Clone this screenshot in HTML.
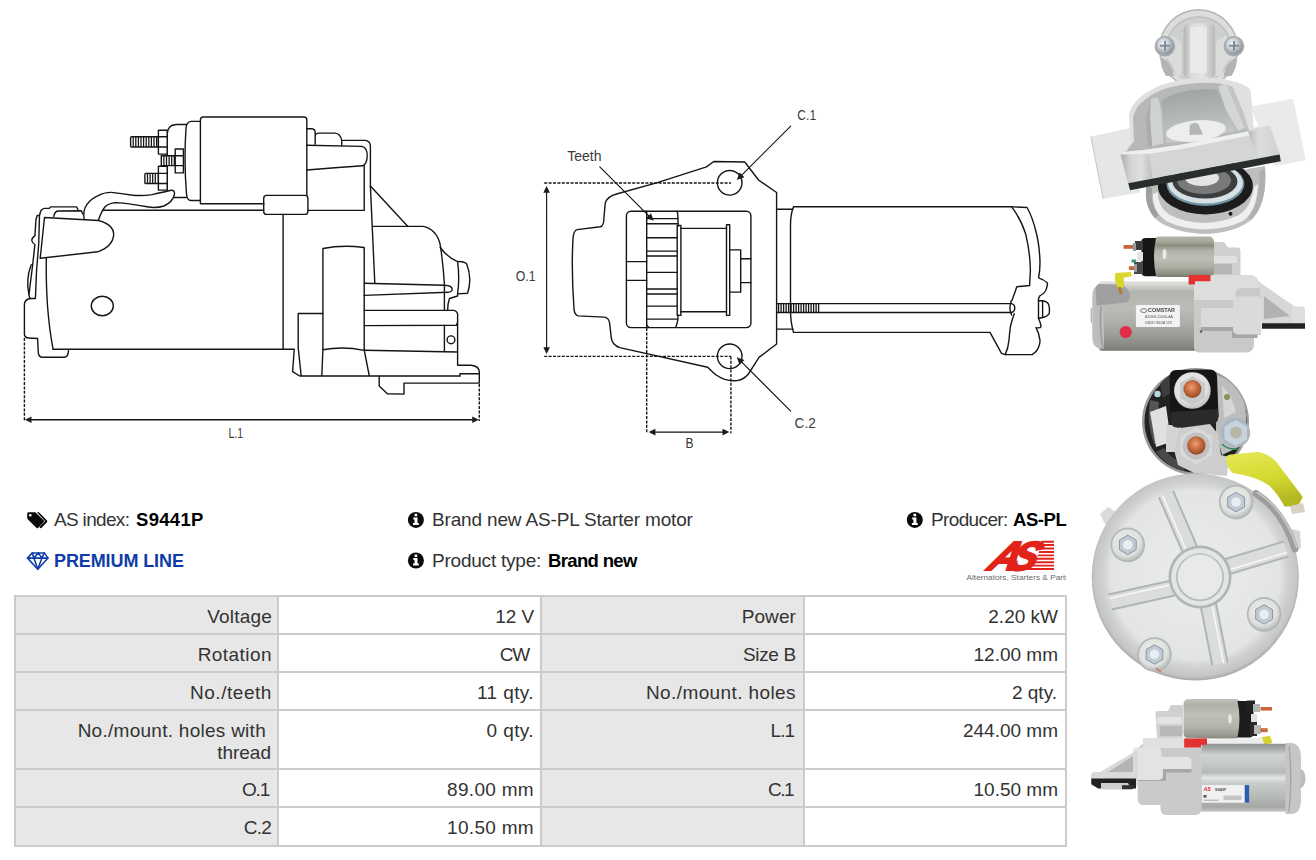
<!DOCTYPE html>
<html lang="en">
<head>
<meta charset="utf-8">
<title>S9441P - AS-PL Starter motor</title>
<style>
html,body{margin:0;padding:0;background:#fff;}
body{width:1316px;height:860px;position:relative;overflow:hidden;font-family:"Liberation Sans",sans-serif;color:#1a1a1a;}
.abs{position:absolute;}
.info{position:absolute;font-size:19px;line-height:22px;white-space:nowrap;color:#333;}
.info b{color:#000;font-weight:bold;font-size:18.5px;}
table.spec{position:absolute;left:14px;top:595px;width:1051px;border-collapse:collapse;table-layout:fixed;font-size:19px;color:#333;}
table.spec td{border:2px solid #cbcbcb;padding:0 6px 0 6px;text-align:right;vertical-align:top;line-height:22px;box-sizing:border-box;}
table.spec td.l{background:#e7e7e7;}
table.spec td.v{background:#fff;}
table.spec td span{display:block;padding-top:9px;white-space:nowrap;}
</style>
</head>
<body>
<svg id="drawL" class="abs" style="left:0;top:90px" width="520" height="370" viewBox="0 90 520 370" fill="none" stroke="#151515" stroke-width="1.4" stroke-linejoin="round" stroke-linecap="round">
<!-- solenoid body -->
<path d="M203.4 117 H304 Q306.8 117 306.8 120 V195.4 M200.4 203.8 V120 Q200.4 117 203.4 117 M200.4 203.8 H264"/>
<!-- solenoid left cap -->
<path d="M200.4 121.4 H191 Q186.5 122 186 128 Q183.8 160 186.5 194 Q187 200.5 191 200.5 H200.4"/>
<!-- terminal housing -->
<path d="M186.8 124.5 H176 Q167.8 125 167.3 133.5 V190 M174 197.5 H186.2"/>
<!-- bolts -->
<g fill="#fff">
<rect x="130.6" y="136.8" width="27.8" height="10.2" rx="1"/>
<rect x="158.4" y="130.3" width="8.8" height="23.8"/>
<rect x="161.3" y="155.8" width="13.9" height="9.8"/>
<rect x="175.2" y="149" width="8.2" height="23.9"/>
<rect x="144.9" y="173.4" width="13.5" height="10.1" rx="0.8"/>
<rect x="158.4" y="166.3" width="8.8" height="23.8"/>
<path d="M158.4 136.8h8.800M158.4 147h8.800M175.2 155.8h8.200M175.2 165.600h8.200M158.4 173.4h8.800M158.4 183.500h8.800" fill="none"/>
<path d="M133.2 136.8v10.2M135.8 136.8v10.2M138.4 136.8v10.2M141.0 136.8v10.2M143.6 136.8v10.2M146.2 136.8v10.2M148.8 136.8v10.2M151.4 136.8v10.2M154.0 136.8v10.2M156.6 136.8v10.2M163.9 155.8v9.8M166.5 155.8v9.8M169.1 155.8v9.8M171.7 155.8v9.8M174.3 155.8v9.8M147.5 173.4v10.1M150.1 173.4v10.1M152.7 173.4v10.1M155.3 173.4v10.1" stroke-width="1.25" stroke-linecap="butt" fill="none"/>
</g>
<!-- cable -->
<path d="M84.1 218.6 Q82.5 211 87.1 204.2 Q91.5 198.5 97.7 195.9 Q104 192.3 111.3 192.4 Q122 193.6 131 195 Q142 196.2 152 194.6 Q164 192 171 190.3 Q175.5 190 174.3 195 Q172.5 202 164 206 Q156 208.5 147 206.8 Q130 203.5 116 202.6 Q108 203.5 105.3 206.5 Q101.5 211 98.4 220.3"/>
<!-- motor body top / bottom -->
<path d="M103 210.3 H263.7 M53.1 349.3 H294.2 M283.1 214.4 V349.3"/>
<!-- rounded connector box -->
<rect x="263.7" y="195.4" width="44.2" height="19" rx="3"/>
<!-- brush cover -->
<path d="M44.5 217.5 L98.4 220.5 Q114.5 225 113.6 235.4 Q112.5 246.5 97.7 251.8 L40.2 258.3 Z"/>
<!-- end cap outline -->
<path d="M78 209.5 L76.5 206.9 H50.6 L49.3 208.4 H44.5 Q40.6 209.3 40.2 213 L39.5 215.5 H37.2 L36 219.3 L34.9 235.9 Q31.8 237.5 31.8 240.5 Q32.3 243.5 34.9 244.4 L32.7 264.7 L28.9 294.9 L29.9 298.5 H35.4 L36.6 270 L38.7 244 L39.5 215.5"/>
<path d="M53.8 216.5 Q54.5 211.5 58 211 L81.3 210.7 L82.8 214"/>
<path d="M31.2 264.7 Q25.6 279 28.9 294.2"/>
<path d="M46.3 258.3 Q45.5 310 53.1 349.3"/>
<path d="M29.9 298.5 Q25 299.5 24.4 304 V334.5 Q25 337.8 28.5 338 L37.6 338.5 L38.3 352.8 Q38.8 357 42.5 357.3 H64.5 Q68.3 356.8 68.5 350.6"/>
<ellipse cx="102.3" cy="306" rx="11" ry="9.7"/>
<!-- solenoid right steps -->
<path d="M306.8 128.7 H312 Q315.2 129 315.2 132.5 V144.2 M315.2 136 Q315.5 133.1 319 133.1 H335 Q340.5 133.6 341.7 140.4 V145.8 M341.7 140.4 H365 Q370.2 140.8 370.4 146 V186.1 L374.8 283.3"/>
<path d="M306.8 145.3 L362 146.4 Q367.5 148 367.2 156 Q367 164 362.7 165.8 Q335 167.5 306.8 170"/>
<path d="M364.2 165.5 V210.4 H307.9"/>
<!-- mounting flange -->
<path d="M322.9 349.5 V248.5 Q343 244.5 363.8 247.5 M364.2 247.5 V349.8"/>
<path d="M457.6 261.6 Q459.8 278 457.6 293.9"/>
<path d="M370.4 186.1 L407.9 226.4"/>
<path d="M372.6 226.4 H423 Q436 229 440 243.6 Q443 262 444.4 283.8 V310.4 M444.4 325.2 V350.6"/>
<path d="M440.2 247.5 Q447 257 457.6 261.6 Q463 261 466.5 263.5 Q472.5 278 467.6 293.2 L457.6 293.9 V296 L449.5 298.5 Q447.6 304 447.7 309.8"/>
<!-- fork / bars -->
<path d="M364.2 283.3 L444.4 285.3 Q452 285.6 452.2 289.2 Q452 292 448 292.2 L364.2 295.4"/>
<path d="M364.2 310.4 H454 Q458.5 312 457.6 316.5 V322 L456.5 325.2 L364.2 325.6"/>
<path d="M457.6 323 V365.2 H471 Q479.3 366 479.3 372 V383.1 H404 V394.1 L387.4 393.7 L379.2 386 V376.5"/>
<path d="M364.2 350.3 L457.6 352"/>
<circle cx="451" cy="339.8" r="3.9"/>
<path d="M459.9 376 V373.8 H479"/>
<!-- lower block -->
<path d="M298.2 349.3 V313.5 H322.9 M294.2 349.8 L292.6 371.6 L299.7 376 H459.9 M298.4 349.5 L301.2 376 M322.9 349.5 L321.8 376 M364.2 349.8 L369.3 376 M322.9 349.8 Q343 346 364.2 350.4"/>
<!-- dimension -->
<path d="M24.4 338 V421 M479.3 384 V421" stroke-dasharray="3 1.4" stroke-width="1.4" stroke-linecap="butt"/>
<path d="M29 419.8 H475"/>
<path d="M24.8 419.8 L31.5 416.6 V423 Z M478.9 419.8 L472.2 416.6 V423 Z" fill="#1f1f1f" stroke="none"/>
<text x="228.4" y="438" font-family="'Liberation Sans',sans-serif" font-size="14.5" fill="#3a3a3a" stroke="none" textLength="14.6" lengthAdjust="spacingAndGlyphs">L.1</text>
</svg>
<svg id="drawR" class="abs" style="left:500px;top:90px" width="580" height="370" viewBox="500 90 580 370" fill="none" stroke="#151515" stroke-width="1.4" stroke-linejoin="round" stroke-linecap="round">
<!-- housing outline -->
<path d="M713.8 161.5 L744.8 162 L758.5 180 L776.6 192.5 V344 L759 357.4 Q753 367 748 374.5 Q743 380 737 380.6 Q730 381 724.8 379.4 Q717 376.5 712.6 372.1 L707.7 367.2 L619.8 347.6 Q612 345 611.3 337.9 L609.6 323.2 Q609 317.5 604 317.1 L578.3 315.9 Q574.3 315 574 308.6 Q571.2 270 573 238.9 Q573.5 230.5 577.1 229.6 L600.3 226.7 Q604 226 604 216.9 L605.2 203.5 Q606.5 196.5 617.4 193.7 L656.5 182.8 L706.5 166.9 Z"/>
<!-- inner window -->
<rect x="626.4" y="211.3" width="124.5" height="116.3" rx="4.5"/>
<!-- gear -->
<path d="M646.7 211.3 V326.2 M649 327.4 Q647 326.5 646.7 324 M677.2 211.3 Q678.2 215 678 226 M678 315 Q678 323 675.5 327.4"/>
<path d="M646.7 218.6H677.8M646.7 223.8H678M646.7 237.7H677.2M646.7 251.1H677.2M646.7 256H677.2M646.7 272.4H677.2M646.7 289H677.2M646.7 294H677.2M646.7 306.1H677.2M646.7 319.1H677.8"/>
<path d="M677.2 225.5 V315.4 H680.9 V225.5 Z"/>
<path d="M680.9 228.4 H726.5 M680.9 311.8 H726.5"/>
<path d="M726.5 224.7 V315.4 H729.7 V224.7 Z"/>
<path d="M729.7 249.9 H740.7 V292.1 H729.7 M740.7 258.7 H750.9 M740.7 282.6 H750.9"/>
<path d="M626.4 261.6 H646.7 M626.4 280.4 H646.7"/>
<!-- holes -->
<circle cx="729.7" cy="182.8" r="12.3"/>
<circle cx="729.7" cy="356.3" r="12.3"/>
<!-- neck -->
<path d="M776.6 209.2 H792.8 M776.6 329.1 H793 M776.6 303.6 H793 M776.6 312.5 H793"/>
<!-- motor body -->
<path d="M793.5 206.8 H1011.7 L1027 207.5 M793.5 206.8 Q790.3 215 790.5 226.7 V310 Q790.5 322 793.5 332.4 H990 L1001.5 353.3 L1005.3 354.6 H1032.1 Q1037 351.5 1038.6 346.9 Q1040.5 343 1039.8 339.3 Q1039 333 1036 327.7 Q1040.5 328.5 1041.1 326.5 Q1040 321 1038.5 318.5 M1038.5 300.5 Q1038.2 298 1039.8 295.8 Q1045 293 1046.2 289.4 Q1047.5 286 1047.5 283 Q1043.5 279.5 1038.6 277.9 Q1040.5 268 1039.8 257.4 Q1039 243 1036 231.8 Q1032.5 217 1027 207.5"/>
<path d="M1011.7 206.8 Q1021.5 220 1025.8 234.4 Q1030 252 1030.4 270.2 L1029.6 285.5 L1016.8 286.8 Q1014.5 294 1011.7 300.9 M1014.2 313.7 Q1012 320 1010.4 326.5 Q1009.5 333 1009.1 339.3 Q1008.3 348 1005.3 354.6"/>
<path d="M1038.5 300.7 H1042.4 Q1047.5 301.5 1048.8 304.7 Q1050 309 1049.3 313.7 Q1047 317 1042.4 317.5 L1038.5 318.5 Z"/>
<path d="M1042.6 300.9 V317.5"/>
<!-- through bolt -->
<path d="M793 303.6 H1011.5 Q1014.8 304.5 1014.8 308 Q1014.8 311.5 1011.5 312.5 H793"/>
<path d="M1011.2 301 Q1008.5 308 1011.6 315" />
<path d="M778.6 303.7v8.8M781.1 303.7v8.8M783.6 303.7v8.8M786.1 303.7v8.8M788.6 303.7v8.8M791.1 303.7v8.8M793.6 303.7v8.8M796.1 303.7v8.8M798.6 303.7v8.8M801.1 303.7v8.8M803.6 303.7v8.8M806.1 303.7v8.8M808.6 303.7v8.8M811.1 303.7v8.8M813.6 303.7v8.8M816.1 303.7v8.8M818.6 303.7v8.8" stroke-width="1.3" stroke-linecap="butt"/>
<!-- dimensions -->
<g stroke-dasharray="3 1.4" stroke-linecap="butt" stroke-width="1.4">
<path d="M544.2 183 H730.9 M544.2 356.4 H730.9 M646.7 328 V433.2 M730.9 356.4 V433.2"/>
</g>
<g stroke-width="1.15">
<path d="M546.6 190 V350 M653 432.1 H725 M599.8 166.9 L650.5 217.6 M790.7 126.1 L740 176.8 M790.7 411.1 L740 360.4"/>
</g>
<g fill="#1a1a1a" stroke="none">
<path d="M546.6 186 L549.9 192.8 H543.3 Z M546.6 354 L549.9 347.2 H543.3 Z"/>
<path d="M648.6 432.1 L655.4 428.8 V435.4 Z M729.3 432.1 L722.5 428.8 V435.4 Z"/>
<path d="M653.7 220.8 L646.2 218 L651 213.2 Z"/>
<path d="M736.8 180 L739.6 172.5 L744.4 177.3 Z"/>
<path d="M736.8 357.2 L744.4 359.9 L739.6 364.7 Z"/>
</g>
<g font-family="'Liberation Sans',sans-serif" font-size="14.5" fill="#3a3a3a" stroke="none">
<text x="567.2" y="160.9" textLength="34.3" lengthAdjust="spacingAndGlyphs">Teeth</text>
<text x="515.8" y="280.9" textLength="19.8" lengthAdjust="spacingAndGlyphs">O.1</text>
<text x="685.6" y="448.3" textLength="8" lengthAdjust="spacingAndGlyphs">B</text>
<text x="797.3" y="119.9" font-size="15" textLength="18.8" lengthAdjust="spacingAndGlyphs">C.1</text>
<text x="794.6" y="427.9" font-size="15" textLength="21.2" lengthAdjust="spacingAndGlyphs">C.2</text>
</g>
</svg>
<svg id="photos" class="abs" style="left:1080px;top:0" width="236" height="860" viewBox="1080 0 236 860">
<defs>
<filter id="soft" x="-5%" y="-5%" width="110%" height="110%"><feGaussianBlur stdDeviation="0.55"/></filter>
<filter id="soft2" x="-10%" y="-10%" width="120%" height="120%"><feGaussianBlur stdDeviation="1.2"/></filter>
<filter id="soft3" x="-20%" y="-20%" width="140%" height="140%"><feGaussianBlur stdDeviation="2.5"/></filter>
<linearGradient id="cylA" x1="0" y1="0" x2="0" y2="1">
<stop offset="0" stop-color="#b4b4a8"/><stop offset="0.12" stop-color="#a6a69a"/><stop offset="0.22" stop-color="#8c8c7e"/><stop offset="0.35" stop-color="#b2b2a8"/><stop offset="0.55" stop-color="#bebeb6"/><stop offset="0.75" stop-color="#adada2"/><stop offset="0.92" stop-color="#8f8f84"/><stop offset="1" stop-color="#77776c"/>
</linearGradient>
<linearGradient id="cylB" x1="0" y1="0" x2="0" y2="1">
<stop offset="0" stop-color="#8f938f"/><stop offset="0.08" stop-color="#a9ada9"/><stop offset="0.16" stop-color="#cfd3d0"/><stop offset="0.3" stop-color="#c6cac7"/><stop offset="0.42" stop-color="#b6bab7"/><stop offset="0.5" stop-color="#e4e6e4"/><stop offset="0.58" stop-color="#c9cdc9"/><stop offset="0.8" stop-color="#b4b7b4"/><stop offset="0.93" stop-color="#a6a8a6"/><stop offset="1" stop-color="#c9c9c7"/>
</linearGradient>
<linearGradient id="cylC" x1="0" y1="0" x2="0" y2="1">
<stop offset="0" stop-color="#e4e4e0"/><stop offset="0.06" stop-color="#d2d2ce"/><stop offset="0.15" stop-color="#b4b4ae"/><stop offset="0.38" stop-color="#bcbcb6"/><stop offset="0.6" stop-color="#aeaea8"/><stop offset="0.8" stop-color="#9a9a94"/><stop offset="0.95" stop-color="#84847e"/><stop offset="1" stop-color="#787872"/>
</linearGradient>
<linearGradient id="alV" x1="0" y1="0" x2="0" y2="1">
<stop offset="0" stop-color="#d6d6d6"/><stop offset="0.5" stop-color="#c4c4c4"/><stop offset="1" stop-color="#ababab"/>
</linearGradient>
<linearGradient id="alH" x1="0" y1="0" x2="1" y2="0">
<stop offset="0" stop-color="#b4b4b4"/><stop offset="0.45" stop-color="#d6d6d6"/><stop offset="1" stop-color="#b9b9b9"/>
</linearGradient>
<radialGradient id="screw" cx="0.4" cy="0.38" r="0.7">
<stop offset="0" stop-color="#f4f8fb"/><stop offset="0.45" stop-color="#c9d2da"/><stop offset="0.8" stop-color="#9aa2a9"/><stop offset="1" stop-color="#7d8388"/>
</radialGradient>
<radialGradient id="washer" cx="0.45" cy="0.4" r="0.65">
<stop offset="0" stop-color="#eceeec"/><stop offset="0.7" stop-color="#dfe1df"/><stop offset="1" stop-color="#b0b4b0"/>
</radialGradient>
<radialGradient id="copper" cx="0.45" cy="0.4" r="0.65">
<stop offset="0" stop-color="#f0a070"/><stop offset="0.5" stop-color="#c56a3e"/><stop offset="1" stop-color="#8a4526"/>
</radialGradient>
<radialGradient id="disc" cx="0.5" cy="0.49" r="0.51">
<stop offset="0" stop-color="#ebedec"/><stop offset="0.8" stop-color="#e3e5e4"/><stop offset="0.87" stop-color="#d0d3d1"/><stop offset="0.96" stop-color="#c3c6c4"/><stop offset="1" stop-color="#a6a9a7"/>
</radialGradient>
<radialGradient id="cap1" cx="0.5" cy="0.45" r="0.55">
<stop offset="0" stop-color="#d2d2d2"/><stop offset="0.75" stop-color="#c4c4c4"/><stop offset="1" stop-color="#a6a6a6"/>
</radialGradient>
<linearGradient id="col1" x1="0" y1="0" x2="1" y2="0">
<stop offset="0" stop-color="#b3b3b3"/><stop offset="0.25" stop-color="#dcdcdc"/><stop offset="0.6" stop-color="#e4e4e4"/><stop offset="1" stop-color="#b8b8b8"/>
</linearGradient>
<linearGradient id="yel" x1="0" y1="0" x2="0.3" y2="1">
<stop offset="0" stop-color="#e6ea58"/><stop offset="0.6" stop-color="#d3d92f"/><stop offset="1" stop-color="#b4b923"/>
</linearGradient>
<linearGradient id="recess" x1="0" y1="0" x2="0.15" y2="1">
<stop offset="0" stop-color="#9ea29e"/><stop offset="0.45" stop-color="#b0b4b0"/><stop offset="1" stop-color="#c8cbc8"/>
</linearGradient>
<linearGradient id="faceL" x1="0" y1="0" x2="1" y2="0">
<stop offset="0" stop-color="#a9aca9"/><stop offset="0.3" stop-color="#d0d3d0"/><stop offset="0.65" stop-color="#dee0de"/><stop offset="1" stop-color="#bcbfbc"/>
</linearGradient>
<linearGradient id="faceR" x1="0" y1="0" x2="1" y2="0">
<stop offset="0" stop-color="#b9bcb9"/><stop offset="0.35" stop-color="#dcdedc"/><stop offset="1" stop-color="#cfd2cf"/>
</linearGradient>
<linearGradient id="cylD" x1="0" y1="0" x2="0" y2="1">
<stop offset="0" stop-color="#c2c2ba"/><stop offset="0.15" stop-color="#b0b0a8"/><stop offset="0.4" stop-color="#c0c0b9"/><stop offset="0.7" stop-color="#b4b4ac"/><stop offset="0.9" stop-color="#9c9c94"/><stop offset="1" stop-color="#88887f"/>
</linearGradient>
</defs>
<!-- PHOTO 1: front view -->
<g filter="url(#soft)">
<!-- back plate -->
<path d="M1090.8 136.4 L1135 127 L1140 192.5 L1103.2 198.8 Z" fill="#e5e7e5"/>
<path d="M1090.8 136.4 L1103.2 198.800" stroke="#c2c5c2" stroke-width="1" fill="none"/>
<path d="M1250 106.5 L1293.2 98.8 L1305.8 160.2 L1275 166 Z" fill="#e9ebe9"/>
<!-- solenoid cap -->
<circle cx="1198.6" cy="48.8" r="39.8" fill="#b4b7b4"/>
<circle cx="1198.6" cy="48.8" r="38.3" fill="#dcdedc"/>
<circle cx="1198.6" cy="49.5" r="33.5" fill="#bfc2bf"/>
<circle cx="1198.6" cy="50" r="32.3" fill="#cdd0cd"/>
<path d="M1171 36 Q1179 38 1181.5 44 V76 H1176 Q1174 62 1163 56 Z M1226 36 Q1218 38 1216 44 V76 H1221.500 Q1223.500 62 1234.500 56 Z" fill="#dadcda"/>
<path d="M1163 58 Q1172 64 1174 76 H1166 Q1161 68 1160.500 60 Z M1234.500 58 Q1225.500 64 1223.500 76 H1231.500 Q1236.500 68 1237 60 Z" fill="#b2b5b2"/>
<rect x="1183.5" y="23.5" width="31.6" height="55" rx="6" fill="url(#col1)"/>
<rect x="1190" y="27" width="17" height="46" rx="2" fill="#ececec" opacity="0.8"/>
<!-- screws -->
<circle cx="1164.9" cy="46.3" r="10.3" fill="#a5a9ac"/><circle cx="1164.9" cy="45.8" r="8.4" fill="url(#screw)"/>
<path d="M1160 45.8h10M1165 41v9.6" stroke="#848b91" stroke-width="2" fill="none"/>
<circle cx="1234" cy="46.3" r="10.3" fill="#a5a9ac"/><circle cx="1234" cy="45.8" r="8.4" fill="url(#screw)"/>
<path d="M1229 45.800h10M1234 41v9.600" stroke="#848b91" stroke-width="2" fill="none"/>
<!-- nose (bottom) -->
<path d="M1146.5 186 Q1143 207 1158 221 Q1176 233 1204 234 Q1232 233.5 1250 221 Q1268 206 1265 166 Z" fill="#bcbfbc"/>
<path d="M1153 194 Q1152 212 1167 221.5 Q1183 229 1204 229.5 Q1227 229 1243 221 Q1257 211 1258 184 L1254 187 Q1251 208 1238 215.500 Q1222 222.500 1204 223 Q1184 222.500 1169 214.500 Q1158 207 1157.500 192 Z" fill="#eef0ee"/>
<path d="M1146.5 186 Q1143.500 205 1155 218.500 L1158.500 215 Q1150 204 1152 188 Z" fill="#9da09d"/>
<path d="M1265 168 Q1267.500 203 1251 220 L1248 217 Q1261 202 1259.500 172 Z" fill="#aeb1ae"/>
<!-- ring + pinion -->
<ellipse cx="1205.4" cy="186" rx="47.5" ry="28.4" fill="#1c1c1c"/>
<ellipse cx="1205.4" cy="184" rx="39" ry="22" fill="#6f93a1"/>
<ellipse cx="1205.4" cy="183" rx="37.5" ry="20.500" fill="#d6e0e5"/>
<ellipse cx="1205" cy="181.500" rx="32.500" ry="17" fill="#3c3d3e"/>
<ellipse cx="1204" cy="180.500" rx="27" ry="13.500" fill="#77797a"/>
<ellipse cx="1202" cy="178" rx="17" ry="8" fill="#e4e4e4"/>
<circle cx="1230.500" cy="213.800" r="2" fill="#1e1e1e"/>
<!-- housing body (rim) -->
<path d="M1128.9 114.1 Q1131 106 1138 98.9 Q1148 90.500 1160.8 85.2 Q1175 80 1191.2 78.4 Q1206 76.500 1221.6 78.4 L1236.8 82.2 Q1246 85 1250.5 89.8 L1252 106.5 L1253.8 127.6 L1270.1 125.6 L1279.7 154.4 L1128.2 183.2 L1120.5 154.4 L1131 142.9 Z" fill="#dfe1df"/>
<!-- interior slopes + recess (mid gray) -->
<path d="M1133 118 Q1135 108 1142 102 Q1152 93.500 1163 89.500 Q1176 85 1191 83.500 Q1206 82 1220 83.500 L1232 86.500 L1243 112 L1249 131 L1180.900 144.800 L1148.300 149.600 L1125 153 L1134 141 Z" fill="#b6b9b6"/>
<path d="M1161.7 101 Q1172 93.500 1188 90.500 Q1204 88.500 1217.400 90 L1226 110 L1236 131 L1180.900 142 L1166 143 Z" fill="url(#recess)"/>
<ellipse cx="1196" cy="131" rx="30" ry="10.500" fill="#eceeec" transform="rotate(-6 1196 131)"/>
<path d="M1189.500 135 V127 Q1190 123 1194.500 123 Q1199 123 1199.500 127 L1203 134.500 Z" fill="#b3b6b3"/>
<!-- left ridge -->
<path d="M1150.500 99.500 Q1154.500 96 1158.500 98.500 L1161.500 112 L1163.500 143.500 L1152 146 L1150 118 Z" fill="#cfd2cf"/>
<path d="M1150.500 99.500 L1150 118 L1152 146 L1148 147 L1146 120 Z" fill="#a9aca9"/>
<!-- right ridge -->
<path d="M1218.500 87 Q1222 83.500 1227 85 L1232 97 L1245 128 L1238 131 L1226 110 Z" fill="#d3d6d3"/>
<path d="M1227 85 L1232.500 86.500 L1243 112 L1249 131 L1245 128 L1232 97 Z" fill="#c2c5c2"/>
<!-- flange front face -->
<path d="M1120.5 154.4 L1123.4 152 L1148.3 149.6 L1180.9 144.8 L1248.1 131.4 L1269.5 125.6 L1279.7 154.4 L1128.2 183.2 Z" fill="#d3d6d3"/>
<path d="M1120.5 154.4 L1123.4 152 L1148.3 149.6 L1180.9 144.8 L1248.1 131.4 L1269.5 125.6 L1271 130 L1249 135.6 L1181.4 149 L1149 153.8 L1124 156.5 L1121.5 158.5 Z" fill="#eef0ee"/>
<path d="M1248.1 131.4 L1269.5 125.6 L1279.7 154.4 L1257 158.8 Z" fill="url(#faceR)"/>
<path d="M1120.5 154.4 L1149 153.800 L1152.500 178.600 L1128.2 183.2 Z" fill="url(#faceL)"/>
<!-- gasket -->
<path d="M1128.2 183.2 L1279.7 154.4 L1280.8 161.2 L1130.1 190.2 Z" fill="#2c2d2c"/>
</g>
<!-- PHOTO 2: side view (label COMSTAR) -->
<g filter="url(#soft)" font-family="'Liberation Sans',sans-serif">
<!-- drive housing / solenoid mount (behind) -->
<path d="M1210 242 H1224 L1228 247.5 H1238 Q1240.5 248 1240.5 251 V276 H1210 Z" fill="#cdd0cd"/>
<path d="M1212 256 H1236 Q1239 259 1236 263 H1212 Z" fill="#e0e2e0"/>
<path d="M1212 264 H1232 V274 H1212 Z" fill="#b5b5b5"/>
<!-- mounting ear right -->
<path d="M1258 281 L1304 313 V326 L1262 326 Z" fill="#d6d8d6"/>
<path d="M1264 296 L1290 316 L1264 319 Z" fill="#b0b3b0"/>
<path d="M1292 306.5 H1303.5 Q1305 307 1305 309 V324 H1292 Z" fill="#dcdedc"/>
<path d="M1262 323.3 H1305 V328.8 H1262 Z" fill="#242424"/>
<!-- solenoid -->
<rect x="1154" y="236.6" width="60" height="40.5" rx="5" fill="url(#cylA)"/>
<ellipse cx="1164.500" cy="254" rx="2" ry="5" fill="#f4f4ee" opacity="0.85"/>
<path d="M1141.5 241 Q1141.5 238 1146 238 H1156 Q1152 256 1156 276.2 H1146 Q1141.5 276 1141.5 273 Z" fill="#191919"/>
<rect x="1135" y="241" width="8" height="9" fill="#3a3a3a"/><rect x="1134" y="262" width="9" height="12" fill="#4a4a4a"/>
<rect x="1137" y="252" width="6" height="9" fill="#e4e4e4"/>
<rect x="1123.6" y="245" width="10" height="3.8" fill="#c8683a"/>
<rect x="1128.9" y="266.2" width="6" height="3.8" fill="#c8683a"/>
<rect x="1131.5" y="259.5" width="4.5" height="3" fill="#3a9a6a"/>
<rect x="1133" y="243" width="3" height="8" fill="#9a9a9a"/><rect x="1134" y="264" width="3" height="8" fill="#9a9a9a"/>
<!-- motor body -->
<rect x="1099" y="281.2" width="100" height="69.5" rx="3" fill="url(#cylC)"/>
<!-- end cap left -->
<path d="M1098 285.5 Q1092.5 287 1092.3 296 V338 Q1093 347.5 1099 348.5 L1104 349 V284 Z" fill="#bdbdbd"/>
<path d="M1095.5 287.8 L1098 284 L1122 284.5 Q1129.5 289 1130 296.2 Q1129.5 301.5 1125.8 302.4 L1096.5 305.6 Z" fill="#9fa1a1"/>
<path d="M1092 307 Q1090.5 308 1090.5 311 V320 Q1090.6 323.5 1092 324 Z" fill="#b9b9b9"/>
<path d="M1101 306 Q1099 327 1103 349" stroke="#9c9c9c" stroke-width="1.5" fill="none"/>
<!-- yellow boot -->
<path d="M1115.3 273.1 L1131 272.1 L1131.6 276.3 L1123.7 277.8 L1124.2 286.7 L1118.5 289.9 L1114.8 279.4 Z" fill="#dbd62c"/>
<rect x="1118.5" y="287" width="3.2" height="7" fill="#b07a3a" transform="rotate(-15 1120 290)"/>
<!-- label -->
<rect x="1135.9" y="304.9" width="44" height="22" rx="1.5" fill="#f3f3f3"/>
<text x="1148" y="312.3" font-size="4.6" fill="#4a4a4a" font-weight="bold" textLength="27" lengthAdjust="spacingAndGlyphs">COMSTAR</text>
<ellipse cx="1143.7" cy="310.6" rx="3.2" ry="1.9" fill="none" stroke="#4a4a4a" stroke-width="0.7"/>
<text x="1145" y="318.3" font-size="3.6" fill="#555" textLength="28" lengthAdjust="spacingAndGlyphs">A10SS-11000-AA</text>
<text x="1145" y="324.3" font-size="3.4" fill="#555" textLength="27" lengthAdjust="spacingAndGlyphs">0363O  INDIA 12V</text>
<circle cx="1125.7" cy="332.1" r="6.1" fill="#e02e48"/>
<!-- drive housing front -->
<path d="M1194 281 Q1194 275.5 1200 275.2 H1252 Q1257 276 1258.5 282 L1261 300 V335 H1254 V345 Q1253.5 352 1247 352.5 H1199 Q1194 352 1194 347 Z" fill="#c8cac8"/>
<path d="M1194 281 Q1194 275.5 1200 275.2 H1252 Q1257 276 1258.5 282 L1259 288 H1240 Q1236 289 1235 294 V300 H1194 Z" fill="#dcdedc"/>
<path d="M1201 308 H1233 V300 Q1233.5 296.5 1237 296.5 H1258 Q1261.5 297 1261.5 301 V331 Q1261 334.5 1257.5 334.5 H1237 Q1233.5 334 1233 330.5 V327 H1201 Z" fill="#d9dbd9"/>
<path d="M1201 327 H1233 V330.5 Q1233.5 334 1237 334.5 H1257.5 V338 H1232 V331 H1201 Z" fill="#a4a7a4"/>
<path d="M1188.6 275 H1210.5 V281.2 H1195 V284.5 H1188.6 Z" fill="#e23030"/>
<circle cx="1201" cy="331.5" r="1.2" fill="#555"/>
</g>
<!-- PHOTO 3: rear view -->
<g filter="url(#soft)">
<!-- solenoid rear disc -->
<circle cx="1195.5" cy="421.5" r="53.5" fill="#9a9a9a"/>
<circle cx="1195.5" cy="421.5" r="51" fill="#222"/>
<path d="M1150 400 Q1146 422 1154 444 L1162 440 Q1156 422 1159 402 Z" fill="#555"/>
<path d="M1156 452 Q1166 466 1184 471 L1186 464 Q1172 460 1164 448 Z" fill="#4a4a4a"/>
<path d="M1160 384 Q1166 377 1172 374 L1172 392 L1163 398 Z" fill="#3d3d3d"/>
<path d="M1216 374.5 Q1236 381 1244.5 404 Q1249 426 1241 446 L1222 455 L1216 432 Z" fill="#bdbdbd"/>
<path d="M1222 386 Q1232 395 1236 412 L1224 418 Z" fill="#d6d6d6"/>
<circle cx="1227" cy="397" r="3" fill="#8d8d58"/>
<!-- white plastic bits -->
<path d="M1150 412 L1166 406 L1171 442 L1156 447 Z" fill="#e0e0e0"/>
<path d="M1166 425 H1181 V452 H1166 Z" fill="#d4d4d4"/>
<circle cx="1157.5" cy="394" r="3.2" fill="#b5d9dc"/>
<!-- terminal block -->
<path d="M1169.5 376 Q1170 370.5 1176 370 L1210 369.5 Q1216.5 370 1217 376 L1218.5 416 Q1218 424 1210 425 L1178 427.5 Q1171 427.5 1170.5 420 Z" fill="#161616"/>
<path d="M1171 412 L1218 409 L1218.5 416 Q1218 424 1210 425 L1178 427.5 Q1171 427.5 1170.5 420 Z" fill="#2b2b2b"/>
<!-- top nut -->
<circle cx="1192.4" cy="390.5" r="18.3" fill="url(#washer)"/>
<path d="M1192.4 376 L1205 383 V398 L1192.4 405.5 L1180 398 V383 Z" fill="#c9c9c9"/>
<circle cx="1192.4" cy="389" r="9" fill="url(#copper)"/>
<!-- bottom bracket + nut -->
<path d="M1174 450 L1180 428 L1210 424 L1218 434 L1221 455 L1229 457 L1227 476 L1194 473 L1178 465 Z" fill="#cdcdcd"/>
<path d="M1196.3 427.5 L1212 436 V455 L1196.3 464.5 L1180.5 455 V436 Z" fill="#d9d9d9"/>
<circle cx="1196.3" cy="446" r="13.5" fill="#c2c2c2"/>
<circle cx="1196.3" cy="445.5" r="9.2" fill="url(#copper)"/>
<!-- right small nut -->
<circle cx="1235.6" cy="432.7" r="14.6" fill="#aab6c0"/>
<path d="M1235.6 420 L1247 426.5 V439.5 L1235.6 446 L1224.5 439.5 V426.5 Z" fill="#c9d3db"/>
<circle cx="1236" cy="432.5" r="6" fill="#b7b7a8"/>
<path d="M1222 444 Q1228 450 1238 449" stroke="#2f8a58" stroke-width="1.6" fill="none"/>
<!-- yellow boot -->
<path d="M1226 458 Q1226 455 1231 454.5 L1257.7 451.9 Q1268 453 1276.9 462.4 L1302.8 497 L1298 506.6 L1284.5 506.6 Q1278 494 1269.2 485.5 Q1255 476 1232.7 473 Q1226 467 1226 458 Z" fill="url(#yel)"/>
<path d="M1290 506 L1303 503 L1305 512 L1292 514 Z" fill="#d8d2c4"/>
<!-- end cap disc -->
<path d="M1100 514 L1108 507 L1116 512 L1108 530 Z" fill="#d9dbd9"/>
<path d="M1288 528 L1300 531 L1301 548 L1292 552 Z" fill="#d3d6d3"/>
<circle cx="1195.3" cy="577" r="103.6" fill="url(#disc)"/>
<!-- gray cable -->
<path d="M1256 493.5 Q1284 512 1295 549" stroke="#9d9d9d" stroke-width="7" fill="none" stroke-linecap="round"/>
<path d="M1257 492 Q1285 510 1297 548" stroke="#c4c4c4" stroke-width="2" fill="none"/>
<!-- ribs -->
<g stroke-linecap="butt" fill="none">
<path d="M1191 552 L1166 494 M1226 567 L1286 549 M1208 603 L1220 664 M1173 588 L1110 602" stroke="#b2b6b3" stroke-width="17.5"/>
<path d="M1191 552 L1166 494 M1226 567 L1286 549 M1208 603 L1220 664 M1173 588 L1110 602" stroke="#dadddb" stroke-width="13.5"/>
<path d="M1187.5 553.5 L1162.5 495.5 M1227 570.5 L1287 552.5 M1211.5 602.3 L1223.5 663.3 M1172.2 584.5 L1109.2 598.5" stroke="#f6f7f6" stroke-width="1.6"/>
</g>
<circle cx="1200" cy="577" r="31.5" fill="#b2b6b3"/>
<circle cx="1200" cy="577" r="28.8" fill="#e4e6e5"/>
<circle cx="1200" cy="577.3" r="24" fill="#b6bab7"/>
<circle cx="1200" cy="577" r="22.4" fill="#e8eae9"/>
<!-- bolts -->
<g>
<circle cx="1236.1" cy="502.1" r="17.3" fill="#b4b8b5"/><circle cx="1236.1" cy="502.1" r="15.6" fill="url(#washer)"/><path d="M1236.1 492.4 L1244.5 497.2 V507 L1236.1 511.8 L1227.7 507 V497.2 Z" fill="#c0cbd5" stroke="#8e979e" stroke-width="1"/><circle cx="1236.1" cy="502" r="4.8" fill="#e9eef2"/>
<circle cx="1127.8" cy="544.9" r="17.3" fill="#b4b8b5"/><circle cx="1127.8" cy="544.9" r="15.6" fill="url(#washer)"/><path d="M1127.8 535.2 L1136.2 540 V549.8 L1127.8 554.6 L1119.4 549.8 V540 Z" fill="#c0cbd5" stroke="#8e979e" stroke-width="1"/><circle cx="1127.8" cy="544.8" r="4.8" fill="#e9eef2"/>
<circle cx="1264.1" cy="614.4" r="17.3" fill="#b4b8b5"/><circle cx="1264.1" cy="614.4" r="15.6" fill="url(#washer)"/><path d="M1264.1 604.7 L1272.5 609.5 V619.3 L1264.1 624.1 L1255.7 619.3 V609.5 Z" fill="#c0cbd5" stroke="#8e979e" stroke-width="1"/><circle cx="1264.1" cy="614.3" r="4.8" fill="#e9eef2"/>
<circle cx="1154.5" cy="654.5" r="17.3" fill="#b4b8b5"/><circle cx="1154.5" cy="654.5" r="15.6" fill="url(#washer)"/><path d="M1154.5 644.8 L1162.9 649.6 V659.4 L1154.5 664.2 L1146.1 659.4 V649.6 Z" fill="#c0cbd5" stroke="#8e979e" stroke-width="1"/><circle cx="1154.5" cy="654.4" r="4.8" fill="#e9eef2"/>
</g>
<path d="M1156 668 L1161 672" stroke="#e0675a" stroke-width="1.5"/>
</g>
<!-- PHOTO 4: side view (AS label) -->
<g filter="url(#soft)" font-family="'Liberation Sans',sans-serif">
<!-- solenoid mount -->
<path d="M1155.5 713 Q1155.5 711 1158 711 H1168 L1171 705 H1183 V738 H1157 Z" fill="#cfd1cf"/>
<path d="M1158 717 H1182 V724 H1158 Q1155.5 720.5 1158 717 Z" fill="#e2e4e2"/>
<path d="M1160 726 H1182 V736 H1160 Z" fill="#b8b8b8"/>
<!-- solenoid -->
<rect x="1183.5" y="699" width="57" height="39.5" rx="5" fill="url(#cylD)"/>
<ellipse cx="1230" cy="719" rx="1.800" ry="4.500" fill="#f2f2ec" opacity="0.8"/>
<path d="M1237.5 701 H1250 Q1253.5 701.5 1253.5 705 V733 Q1253.5 737 1250 737.5 H1237.5 Q1241.5 719 1237.5 701 Z" fill="#1a1a1a"/>
<rect x="1247" y="700.5" width="8" height="11" fill="#222"/><rect x="1250" y="722" width="7" height="14" fill="#2a2a2a"/>
<rect x="1253" y="704" width="7" height="8" fill="#b5b5b5"/><rect x="1254" y="725" width="7" height="9" fill="#b9b9b9"/>
<rect x="1251" y="714" width="6" height="8" fill="#e2e2e2"/>
<rect x="1260.5" y="707" width="11.5" height="3.6" fill="#c8683a"/>
<rect x="1260.5" y="728.2" width="7.2" height="4" fill="#c8683a"/>
<path d="M1262 737 L1270 736 L1272.5 743 L1264 744.5 Z" fill="#d9d12a"/>
<!-- wire strip -->
<path d="M1207 740 L1262 737.5 L1264 744 L1207 746 Z" fill="#ececec"/>
<!-- motor body -->
<rect x="1200" y="743.8" width="91" height="68" rx="3" fill="url(#cylB)"/>
<path d="M1285.5 743 H1292 Q1300.5 744 1300.9 756 V802 Q1300.5 813 1292 814 H1285.5 Z" fill="#c6c6c6"/>
<path d="M1289 746 Q1292.5 778 1289 812" stroke="#a4a4a4" stroke-width="1.4" fill="none"/>
<path d="M1300.5 769 Q1305.5 771 1305.5 778.5 Q1305.5 786 1300.5 788.5 Z" fill="#bcbcbc"/>
<!-- label -->
<rect x="1201.7" y="785.1" width="47.5" height="17.6" fill="#f1f1f1"/>
<rect x="1244.7" y="785.1" width="4.5" height="17.6" fill="#2a5db0"/>
<text x="1203.5" y="791.3" font-size="5.2" font-weight="bold" font-style="italic" fill="#d8232a">AS</text>
<text x="1215" y="790.8" font-size="3.2" font-weight="bold" fill="#444">S9441P</text>
<rect x="1223.5" y="795.5" width="18" height="4.6" fill="#c4c4c4"/>
<rect x="1203.5" y="795" width="3" height="2.6" fill="#555"/>
<rect x="1203.5" y="799.6" width="15" height="1.3" fill="#b5b5b5"/>
<!-- drive housing -->
<path d="M1137.7 752 Q1138 744 1146 743.5 L1157 737.7 H1196 Q1201 738 1201.5 744 V809 Q1201 814.5 1196 814.9 H1166 Q1160.5 814.5 1160.5 809 V805 H1143 Q1137.7 804.5 1137.7 799 Z" fill="#c9cbc9"/>
<path d="M1143 738 H1196 Q1201 738 1201.5 744 V748 H1143 Z" fill="#dfe1df"/>
<path d="M1133 751 Q1133 747.5 1137 747.5 H1158 Q1161.5 748 1161.5 752 V757 H1188 Q1191.5 757.5 1191.5 761 V769 H1163 V776 Q1163 779.5 1159 780 H1137 Q1133 779.5 1133 776 Z" fill="#e2e4e2"/>
<path d="M1163 769 H1191.500 V772.500 H1166 V781 H1137 V780 H1159 Q1163 779.5 1163 776 Z" fill="#a8a8a8"/>
<path d="M1184.2 738.5 H1207 V744.7 H1201 V747.5 H1184.2 Z" fill="#e23030"/>
<!-- mounting ear -->
<path d="M1137.7 750 L1100 772 H1094 Q1091 772.5 1091 775.5 V786 H1137.7 Z" fill="#d8dad8"/>
<path d="M1133 756 L1108 772 H1133 Z" fill="#b4b4b4"/>
<path d="M1091.3 778.5 H1136 V788.6 H1098 L1091.3 784 Z" fill="#232323"/>
<path d="M1101 783 H1128 L1131 789.5 H1101 Z" fill="#cfcfcf"/>
<rect x="1122" y="785.2" width="11" height="4" fill="#333"/>
</g>
</svg>
<svg id="icons" class="abs" style="left:0;top:500px" width="1080" height="90" viewBox="0 500 1080 90">
<!-- tags icon -->
<path d="M28.6 512.2 H35.3 L43.8 520.6 Q44.4 521.3 43.8 522 L38 527.9 Q37.3 528.5 36.6 527.9 L27.9 519.4 Q27.2 518.6 27.2 517.8 V513.6 Q27.2 512.2 28.6 512.2 Z M30.3 513.9 A1.35 1.35 0 1 0 30.3 516.6 A1.35 1.35 0 1 0 30.3 513.9 Z" fill="#0a0a0a" fill-rule="evenodd"/>
<path d="M36.9 512.2 H38.9 L47 520.4 Q47.7 521.3 47 522.2 L41.4 527.9 Q40.7 528.4 40 527.8 L39.2 527 L45.1 521.3 Z" fill="#0a0a0a"/>
<!-- diamond icon -->
<g fill="none" stroke="#0f3ca8" stroke-width="1.55" stroke-linejoin="round" stroke-linecap="round">
<path d="M32.3 552.9 H44.3 L48 558.1 L37.8 569.2 L27.5 558.1 Z"/>
<path d="M27.5 558.1 H48 M32.3 552.9 L33.9 558.1 L37.8 569.2 L41.9 558.1 L44.3 552.9 M33.9 558.1 L38.3 552.9 L41.9 558.1"/>
</g>
<g transform="translate(415.9 519.9)"><circle r="8" fill="#0a0a0a"/><path d="M-1.3 -6.1 H1.3 V-3.6 H-1.3 Z M-2.6 -2.4 H1.6 V3 H2.9 V5 H-2.9 V3 H-1.4 V-0.5 H-2.6 Z" fill="#fff"/></g>
<g transform="translate(415.9 560.5)"><circle r="8" fill="#0a0a0a"/><path d="M-1.3 -6.1 H1.3 V-3.6 H-1.3 Z M-2.6 -2.4 H1.6 V3 H2.9 V5 H-2.9 V3 H-1.4 V-0.5 H-2.6 Z" fill="#fff"/></g>
<g transform="translate(914.8 519.9)"><circle r="8" fill="#0a0a0a"/><path d="M-1.3 -6.1 H1.3 V-3.6 H-1.3 Z M-2.6 -2.4 H1.6 V3 H2.9 V5 H-2.9 V3 H-1.4 V-0.5 H-2.6 Z" fill="#fff"/></g>
<!-- AS logo -->
<g fill="#e2231a">
<text x="0" y="0" transform="translate(986.2 569.6) skewX(-25) scale(1.0 1)" font-family="'Liberation Sans',sans-serif" font-weight="bold" font-style="italic" font-size="40.5" letter-spacing="-9" stroke="#e2231a" stroke-width="2.2" stroke-linejoin="miter">AS</text>
<path d="M1041.5 540.70 H1054 V542.65 H1040.5 Z"/><path d="M1043.6 544.12 H1054 V546.07 H1042.6 Z"/><path d="M1043.6 547.54 H1054 V549.49 H1042.6 Z"/><path d="M1039.4 550.96 H1054 V552.91 H1038.4 Z"/><path d="M1038.2 554.38 H1054 V556.33 H1037.2 Z"/><path d="M1036.9 557.80 H1054 V559.75 H1035.9 Z"/><path d="M1034.8 561.22 H1054 V563.17 H1033.8 Z"/><path d="M1031.9 564.64 H1054 V566.59 H1030.9 Z"/><path d="M1026.9 568.06 H1054 V570.01 H1025.9 Z"/>
</g>
<text x="966.5" y="580.3" font-family="'Liberation Sans',sans-serif" font-size="7.7" fill="#6a6a6a" textLength="103" lengthAdjust="spacingAndGlyphs">Alternators, Starters &amp; Parts</text>
<rect x="1066.3" y="570" width="8" height="14" fill="#fff"/>
</svg>
<!-- INFO ROWS -->
<div class="info" style="left:54px;top:509px"><span style="letter-spacing:-0.67px">AS index:</span></div>
<div class="info" style="left:136px;top:509px"><b style="letter-spacing:0.3px">S9441P</b></div>
<div class="info" style="left:54px;top:550px"><b style="color:#0f3ca8;font-size:18px;letter-spacing:-0.1px">PREMIUM LINE</b></div>
<div class="info" style="left:432px;top:509px"><span style="letter-spacing:-0.16px">Brand new AS-PL Starter motor</span></div>
<div class="info" style="left:432px;top:550px"><span style="letter-spacing:-0.22px">Product type:</span></div>
<div class="info" style="left:548px;top:550px"><b style="letter-spacing:-0.65px">Brand new</b></div>
<div class="info" style="left:931px;top:509px"><span style="letter-spacing:-0.63px">Producer:</span></div>
<div class="info" style="left:1013px;top:509px"><b style="letter-spacing:-0.45px">AS-PL</b></div>

<!-- TABLE -->
<table class="spec">
<colgroup><col style="width:263px"><col style="width:263px"><col style="width:263px"><col style="width:262px"></colgroup>
<tr style="height:38px"><td class="l"><span style="letter-spacing:0.2px;margin-right:-1px">Voltage</span></td><td class="v"><span style="letter-spacing:-0.1px">12 V</span></td><td class="l"><span style="letter-spacing:0.1px;margin-right:1px">Power</span></td><td class="v"><span style="margin-right:1px">2.20 kW</span></td></tr>
<tr style="height:38px"><td class="l"><span style="letter-spacing:0.45px;margin-right:-1px">Rotation</span></td><td class="v"><span style="letter-spacing:-1.2px;padding-right:5px">CW</span></td><td class="l"><span style="letter-spacing:-0.3px;margin-right:1px">Size B</span></td><td class="v"><span style="margin-right:1px">12.00 mm</span></td></tr>
<tr style="height:38px"><td class="l"><span style="letter-spacing:0.55px;margin-right:-1px">No./teeth</span></td><td class="v"><span style="letter-spacing:0.4px">11 qty.</span></td><td class="l"><span style="letter-spacing:0.4px;margin-right:1px">No./mount. holes</span></td><td class="v"><span style="margin-right:2px">2 qty.</span></td></tr>
<tr style="height:59px"><td class="l"><span><span style="display:inline;letter-spacing:0.27px;padding:0 5px 0 0">No./mount. holes with</span><br>thread</span></td><td class="v"><span style="letter-spacing:0.4px">0 qty.</span></td><td class="l"><span style="letter-spacing:-1px;margin-right:3px">L.1</span></td><td class="v"><span style="margin-right:1px">244.00 mm</span></td></tr>
<tr style="height:38px"><td class="l"><span style="letter-spacing:-1.2px;margin-right:2px">O.1</span></td><td class="v"><span style="letter-spacing:0.3px">89.00 mm</span></td><td class="l"><span style="letter-spacing:-1.5px;margin-right:4px">C.1</span></td><td class="v"><span style="margin-right:1px">10.50 mm</span></td></tr>
<tr style="height:39px"><td class="l"><span style="letter-spacing:-0.8px">C.2</span></td><td class="v"><span style="letter-spacing:0.3px">10.50 mm</span></td><td class="l"><span></span></td><td class="v"><span></span></td></tr>
</table>
</body>
</html>
